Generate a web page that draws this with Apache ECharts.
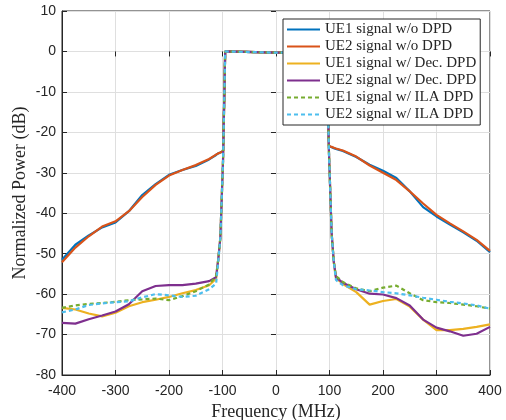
<!DOCTYPE html>
<html>
<head>
<meta charset="utf-8">
<script src="https://cdn.jsdelivr.net/npm/echarts@6/dist/echarts.min.js"></script>
<style>
html,body{margin:0;padding:0;background:#fff;}
#chart{width:506px;height:420px;}
</style>
</head>
<body>
<div id="chart"></div>
<script>
// 频率网格 (MHz)
var freq = [-400,-375,-350,-325,-300,-275,-250,-225,-200,-175,-150,-125,-112,-108,-104,-99,-96,-95,0,
            95,96,99,104,108,112,125,150,175,200,225,250,275,300,325,350,375,400];

// 各条曲线 (dB)
var ue1NoDpd = [-51.5,-47.8,-45.5,-43.5,-42.3,-39.5,-35.5,-32.8,-30.5,-29.3,-28.3,-26.7,-25.6,-25.2,-25,-24.6,-7,0,-0.3,
                0,-7,-23.4,-23.7,-23.9,-24.1,-24.6,-26.1,-28,-29.5,-31.3,-34.6,-38.5,-40.8,-42.8,-44.7,-46.8,-49.6];
var ue2NoDpd = [-52.1,-48.5,-45.7,-43.3,-42,-39.5,-36,-33,-30.7,-29.3,-28.1,-26.6,-25.5,-25.2,-25,-24.6,-7,0,-0.3,
                0,-7,-23.3,-23.6,-23.8,-24,-24.5,-26,-28.2,-30,-31.8,-34.6,-37.6,-40.4,-42.5,-44.5,-46.6,-49.3];
var ue1Dec   = [-63.4,-63.8,-64.8,-65.5,-64.6,-63,-62,-61.4,-60.7,-59.8,-59,-57.8,-56.2,-51.5,-46,-27,-7,0,-0.3,
                0,-7,-25,-45,-52,-56,-57.5,-59.5,-62.6,-61.7,-61.2,-63.1,-66.3,-68.9,-68.9,-68.6,-68.1,-67.5];
var ue2Dec   = [-67.1,-67.3,-66.2,-65.3,-64.3,-62.5,-59.3,-58,-57.8,-57.8,-57.4,-56.8,-55.8,-51.5,-46,-27,-7,0,-0.3,
                0,-7,-25,-45,-52,-55.8,-57.2,-58.8,-59.9,-60.1,-61,-62.8,-66.3,-68.3,-69.2,-70.3,-69.8,-68.1];
var ue1Ila   = [-63.4,-62.8,-62.4,-62.2,-61.9,-61.5,-61.3,-61.1,-61.5,-60.5,-59.3,-57.6,-55.5,-51.5,-46,-27,-7,0,-0.3,
                0,-7,-25,-45,-52,-55.5,-57,-58.6,-59.3,-58.4,-57.9,-59.8,-61.5,-62,-62.2,-62.6,-63,-63.6];
var ue2Ila   = [-64.5,-63.8,-62.7,-62.3,-62,-61.8,-60.8,-60,-60.3,-60.7,-60.4,-58.8,-57.4,-52,-46,-27,-7,0,-0.3,
                0,-7,-25,-45,-52,-56.5,-57.8,-58.8,-59.1,-59.5,-59.8,-60.3,-60.9,-61.4,-61.9,-62.3,-62.8,-63.6];

var seriesNames = ['UE1 signal w/o DPD','UE2 signal w/o DPD','UE1 signal w/ Dec. DPD',
                   'UE2 signal w/ Dec. DPD','UE1 signal w/ ILA DPD','UE2 signal w/ ILA DPD'];
var seriesData = [ue1NoDpd, ue2NoDpd, ue1Dec, ue2Dec, ue1Ila, ue2Ila];
var colors = ['#0072BD','#D95319','#EDB120','#7E2F8E','#77AC30','#4DBEEE'];
var dashed = [false,false,false,false,true,true];

function pairs(arr){
    var out = [];
    for(var i=0;i<freq.length;i++){
        out.push([freq[i], arr[i]]);
    }
    return out;
}

var axisColor = '#262626';
var tickFont = 'Liberation Sans, Arial, sans-serif';
var serifFont = 'Liberation Serif, Times New Roman, serif';

var series = [];
for(var i=0;i<seriesData.length;i++){
    series.push({
        name: seriesNames[i],
        type: 'line',
        data: pairs(seriesData[i]),
        symbol: 'none',
        smooth: false,
        animation: false,
        lineStyle: {
            color: colors[i],
            width: 2.2,
            type: dashed[i] ? [4,3] : 'solid'
        },
        itemStyle: {color: colors[i]}
    });
}

var myChart = echarts.init(document.getElementById('chart'));
var option = {
    backgroundColor: '#fff',
    animation: false,
    color: colors,
    grid: {
        left: 62, right: 16, top: 11, bottom: 45,
        outerBoundsMode: 'none',
        containLabel: false,
        show: true,
        borderColor: axisColor,
        borderWidth: 1
    },
    legend: {
        orient: 'vertical',
        left: 283,
        top: 19,
        data: seriesNames,
        backgroundColor: '#fff',
        borderColor: axisColor,
        borderWidth: 1,
        borderRadius: 0,
        padding: [3, 4, 3, 3],
        itemWidth: 33,
        itemHeight: 12,
        itemGap: 2,
        itemStyle: {opacity: 0},
        lineStyle: {width: 2},
        textStyle: {
            fontFamily: serifFont,
            fontSize: 15,
            lineHeight: 15,
            color: axisColor
        }
    },
    xAxis: [{
        type: 'value',
        min: -400, max: 400, interval: 100,
        name: 'Frequency (MHz)',
        nameLocation: 'middle',
        nameGap: 26,
        nameTextStyle: {fontFamily: serifFont, fontSize: 18, color: axisColor},
        axisLine: {onZero: false, lineStyle: {color: axisColor}},
        axisTick: {inside: true, length: 5, lineStyle: {color: axisColor}},
        axisLabel: {fontFamily: tickFont, fontSize: 14, color: axisColor, margin: 9},
        splitLine: {show: true, lineStyle: {color: '#dfdfdf', width: 1}}
    },{
        type: 'value',
        position: 'top',
        min: -400, max: 400, interval: 100,
        axisLine: {show: false},
        axisTick: {inside: true, length: 5, lineStyle: {color: axisColor}},
        axisLabel: {show: false},
        splitLine: {show: false}
    }],
    yAxis: [{
        type: 'value',
        min: -80, max: 10, interval: 10,
        name: 'Normalized Power (dB)',
        nameLocation: 'middle',
        nameGap: 33,
        nameMoveOverlap: false,
        nameTextStyle: {fontFamily: serifFont, fontSize: 18, color: axisColor},
        axisLine: {show: true, onZero: false, lineStyle: {color: axisColor}},
        axisTick: {show: true, inside: true, length: 5, lineStyle: {color: axisColor}},
        axisLabel: {fontFamily: tickFont, fontSize: 14, color: axisColor, margin: 6},
        splitLine: {show: true, lineStyle: {color: '#dfdfdf', width: 1}}
    },{
        type: 'value',
        position: 'right',
        min: -80, max: 10, interval: 10,
        axisLine: {show: false},
        axisTick: {show: true, inside: true, length: 5, lineStyle: {color: axisColor}},
        axisLabel: {show: false},
        splitLine: {show: false}
    }],
    series: series
};
myChart.setOption(option);
</script>
</body>
</html>
